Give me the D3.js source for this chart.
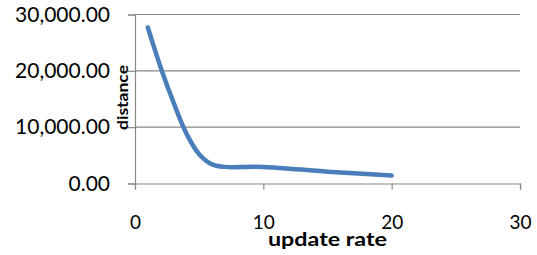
<!DOCTYPE html>
<html><head><meta charset="utf-8">
<script src="https://cdn.jsdelivr.net/npm/d3@7"></script>
<style>body{margin:0;background:#fff}svg{display:block}</style>
</head><body>
<script>
const updateRate = [1, 2, 3, 4, 5, 6, 7, 10, 15, 20];
const distance   = [27700, 20600, 14400, 8900, 5200, 3400, 2950, 2950, 2100, 1400];
const xTicks = [0, 10, 20, 30];
const yTicks = [0, 10000, 20000, 30000];
const xTitle = "update rate";
const yTitle = "distance";

const W = 537, H = 255;
const svg = d3.select("body").append("svg").attr("width", W).attr("height", H);
const x = d3.scaleLinear().domain([0, 30]).range([135, 520]);
const y = d3.scaleLinear().domain([0, 30000]).range([183.5, 14.5]);
const font = "Lato, 'Open Sans', sans-serif";
const grid = "#878787";

// gridlines
svg.append("g").selectAll("line").data(yTicks.filter(d => d > 0)).join("line")
  .attr("x1", x(0)).attr("x2", x(30)).attr("y1", d => y(d)).attr("y2", d => y(d))
  .attr("stroke", grid).attr("stroke-width", 1.2);

// y axis
const ya = svg.append("g").attr("transform", `translate(${x(0)},0)`)
  .call(d3.axisLeft(y).tickValues(yTicks).tickSize(7).tickPadding(18)
    .tickFormat(d => d3.format(",.2f")(d)));
ya.select(".domain").attr("stroke", grid).attr("stroke-width", 1.2);
ya.selectAll(".tick line").attr("stroke", grid).attr("stroke-width", 1.2);
ya.selectAll("text").attr("font-family", font).attr("font-size", 21).attr("fill", "#000");

// x axis
const xa = svg.append("g").attr("transform", `translate(0,${y(0)})`)
  .call(d3.axisBottom(x).tickValues(xTicks).tickSize(6).tickPadding(26));
xa.select(".domain").attr("stroke", grid).attr("stroke-width", 1.2);
xa.selectAll(".tick line").attr("stroke", grid).attr("stroke-width", 1.2);
xa.selectAll("text").attr("font-family", font).attr("font-size", 19).attr("fill", "#000");

// series
const line = d3.line().x((d, i) => x(updateRate[i])).y(d => y(d)).curve(d3.curveCatmullRom.alpha(0.5));
svg.append("path").datum(distance).attr("d", line)
  .attr("fill", "none").attr("stroke", "#4a7ebb").attr("stroke-width", 4.5)
  .attr("stroke-linecap", "round").attr("stroke-linejoin", "round");

// titles
svg.append("text").attr("x", 327.5).attr("y", 246).attr("text-anchor", "middle")
  .attr("font-family", font).attr("font-weight", "bold").attr("font-size", 19)
  .attr("textLength", 119).attr("lengthAdjust", "spacingAndGlyphs").text(xTitle);
svg.append("text").attr("transform", "translate(128,97.5) rotate(-90)").attr("text-anchor", "middle")
  .attr("font-family", font).attr("font-weight", "bold").attr("font-size", 15)
  .attr("textLength", 65).attr("lengthAdjust", "spacingAndGlyphs").text(yTitle);
</script>
</body></html>
